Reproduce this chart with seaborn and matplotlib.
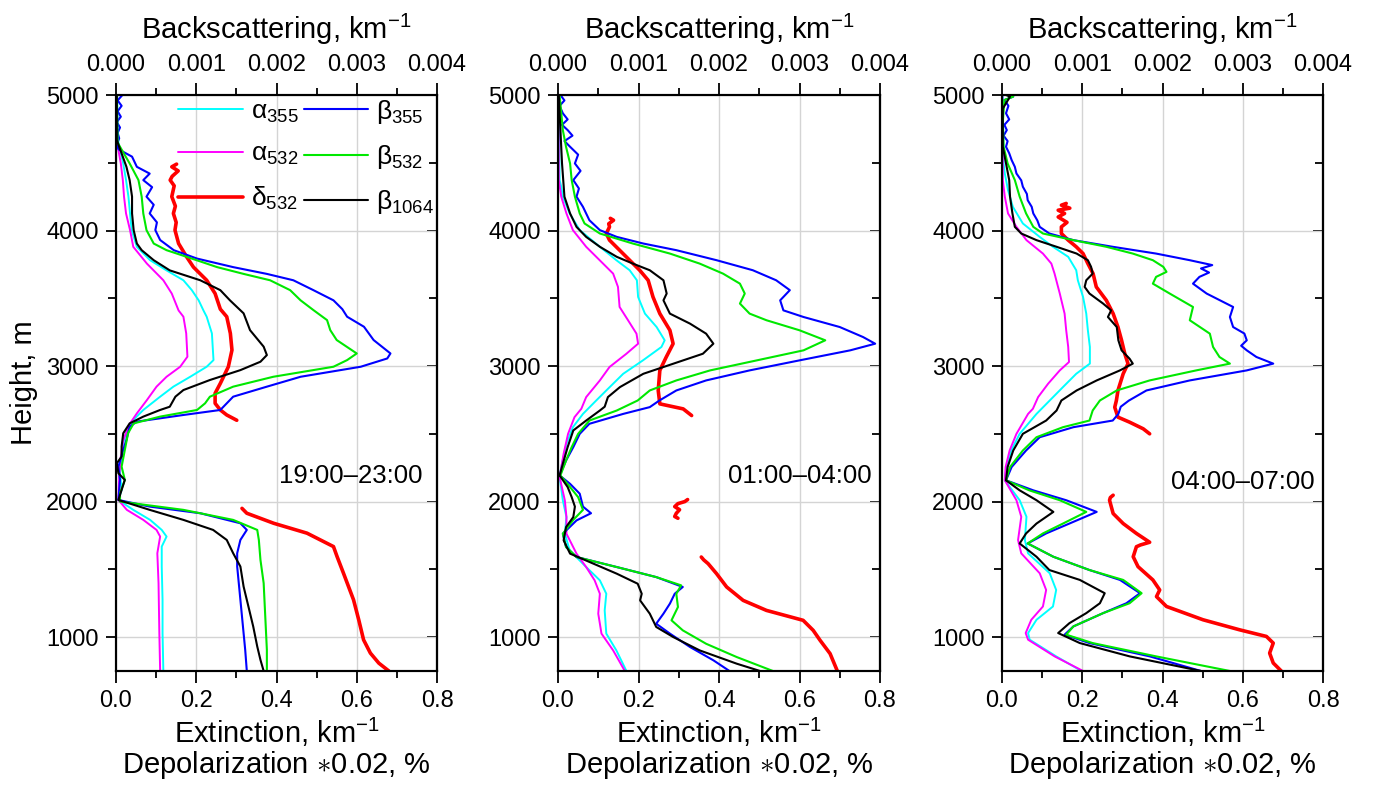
import matplotlib
matplotlib.use("Agg")
import matplotlib.pyplot as plt
import seaborn as sns
from matplotlib.ticker import MultipleLocator, FormatStrFormatter
from matplotlib.lines import Line2D

# ---------------------------------------------------------------------------
# Lidar profiles: heights (m) and values.
# alpha = extinction (km^-1), delta = depolarization*0.02 (%), beta = backscatter (km^-1)
# ---------------------------------------------------------------------------

# ---- 19:00-23:00 ----
p1_a355_h = [5000, 4800, 4650, 4594, 4495, 4372, 4250, 4126, 4003, 3880, 3781, 3706, 3633, 3560, 3485,
             3410, 3364, 3241, 3044, 2995, 2921, 2848, 2774, 2676, 2602, 2528, 2430, 2332, 2209, 2086,
             2012, 1939, 1865, 1791, 1742, 1668, 1521, 1275, 1029, 750]
p1_a355 = [0.003, 0.004, 0.006, 0.010, 0.018, 0.025, 0.031, 0.035, 0.039, 0.052, 0.085, 0.126, 0.168, 0.189, 0.206,
           0.218, 0.226, 0.239, 0.243, 0.226, 0.185, 0.143, 0.110, 0.068, 0.043, 0.027, 0.018, 0.014, 0.010, 0.014,
           0.006, 0.043, 0.085, 0.114, 0.126, 0.114, 0.114, 0.116, 0.116, 0.118]

p1_a532_h = [5000, 4650, 4594, 4495, 4372, 4250, 4126, 4003, 3880, 3756, 3633, 3535, 3410, 3364, 3241,
             3069, 2995, 2921, 2848, 2749, 2651, 2577, 2455, 2332, 2184, 2012, 1939, 1865, 1791, 1742,
             1619, 1398, 1029, 750]
p1_a532 = [0.002, 0.004, 0.006, 0.012, 0.017, 0.020, 0.025, 0.035, 0.043, 0.077, 0.118, 0.139, 0.156, 0.168, 0.175,
           0.178, 0.160, 0.126, 0.101, 0.077, 0.052, 0.035, 0.018, 0.012, 0.008, 0.006, 0.027, 0.068, 0.101, 0.110,
           0.103, 0.106, 0.108, 0.110]

p1_d532_upper_h = [4490, 4470, 4440, 4400, 4372, 4330, 4250, 4180, 4126, 4060, 4003, 3904, 3806, 3730, 3633,
                   3535, 3420, 3364, 3241, 3118, 2995, 2872, 2799, 2725, 2676, 2639, 2600]
p1_d532_upper = [0.151, 0.139, 0.155, 0.140, 0.135, 0.145, 0.139, 0.148, 0.143, 0.150, 0.147, 0.156, 0.176, 0.193, 0.226,
                 0.247, 0.260, 0.276, 0.285, 0.289, 0.280, 0.260, 0.247, 0.247, 0.260, 0.276, 0.301]
p1_d532_lower_h = [1950, 1914, 1840, 1767, 1668, 1594, 1471, 1275, 1127, 980, 882, 808, 750]
p1_d532_lower = [0.314, 0.326, 0.393, 0.476, 0.542, 0.551, 0.567, 0.592, 0.605, 0.617, 0.634, 0.655, 0.680]

p1_b355_h = [5000, 4960, 4920, 4880, 4840, 4800, 4760, 4720, 4680, 4640, 4600, 4545, 4470, 4420, 4372,
             4320, 4250, 4190, 4126, 4060, 4003, 3930, 3855, 3793, 3730, 3680, 3633, 3560, 3485, 3420,
             3364, 3290, 3192, 3093, 3056, 2995, 2921, 2848, 2774, 2725, 2676, 2639, 2590, 2553, 2455,
             2381, 2258, 2160, 2012, 1963, 1914, 1840, 1791, 1717, 1619, 1521, 1398, 1275, 1152, 1029,
             906, 750]
p1_b355 = [0.00008, 0.00002, 0.00007, 0.00002, 0.00006, 0.00001, 0.00005, 0.00002, 0.00004, 0.00001,
           0.00003, 0.0002, 0.00026, 0.00042, 0.00034, 0.00045, 0.00038, 0.00047, 0.00042, 0.00051,
           0.00049, 0.00055, 0.00072, 0.00101, 0.00146, 0.00188, 0.00221, 0.00246, 0.00271, 0.00282,
           0.00288, 0.00309, 0.00321, 0.00342, 0.00338, 0.00305, 0.0023, 0.00188, 0.00146, 0.00138,
           0.0013, 0.00084, 0.00026, 0.00017, 0.00013, 0.00009, 0.00003, 0.00005, 0.00003, 0.00042,
           0.00105, 0.00155, 0.00163, 0.00155, 0.00151, 0.00151, 0.00153, 0.00155, 0.00157, 0.00159,
           0.00161, 0.00163]

p1_b532_h = [5000, 4650, 4618, 4495, 4372, 4250, 4126, 4003, 3904, 3855, 3806, 3730, 3680, 3633, 3560,
             3485, 3413, 3339, 3265, 3192, 3093, 3044, 2995, 2921, 2848, 2774, 2725, 2676, 2627, 2577,
             2504, 2381, 2258, 2160, 2061, 2000, 1939, 1865, 1791, 1717, 1570, 1398, 1152, 906, 750]
p1_b532 = [0.00001, 0.00002, 0.00005, 0.00017, 0.00028, 0.00032, 0.00034, 0.00038, 0.00047, 0.00063,
           0.00088, 0.00126, 0.00159, 0.00192, 0.00217, 0.0023, 0.00246, 0.00263, 0.00267, 0.00275,
           0.003, 0.00288, 0.00271, 0.00196, 0.00146, 0.00117, 0.00111, 0.00101, 0.00055, 0.00022,
           0.00015, 0.00011, 0.00007, 0.00011, 0.00005, 0.00005, 0.00084, 0.00146, 0.00176, 0.00178,
           0.0018, 0.00184, 0.00186, 0.00188, 0.00188]

p1_b1064_h = [5000, 4667, 4569, 4470, 4372, 4250, 4126, 4003, 3904, 3855, 3781, 3706, 3633, 3560, 3485,
              3389, 3265, 3143, 3081, 3032, 2970, 2897, 2823, 2774, 2700, 2676, 2627, 2577, 2504, 2406,
              2332, 2283, 2209, 2160, 2086, 2012, 1939, 1865, 1791, 1717, 1619, 1521, 1373, 1226, 1078,
              931, 832, 750]
p1_b1064 = [0.00001, 0.00001, 0.00007, 0.00013, 0.00017, 0.0002, 0.0002, 0.00022, 0.00026, 0.00032,
            0.00047, 0.00067, 0.00105, 0.0013, 0.00142, 0.00159, 0.00167, 0.00184, 0.00188, 0.0018,
            0.00155, 0.00117, 0.00084, 0.00074, 0.00067, 0.00055, 0.00034, 0.00017, 0.00009, 0.00007,
            0.00007, 0.00001, 0.00003, 0.00011, 0.00007, 0.00003, 0.00042, 0.00084, 0.00121, 0.00138,
            0.00146, 0.00155, 0.00159, 0.00165, 0.00171, 0.00176, 0.0018, 0.00184]

# ---- 01:00-04:00 ----
p2_a355_h = [5000, 4372, 4323, 4250, 4126, 4003, 3880, 3781, 3707, 3633, 3510, 3387, 3288, 3190, 3141,
             3042, 2943, 2820, 2746, 2647, 2549, 2426, 2254, 2181, 2009, 1886, 1763, 1640, 1517, 1419,
             1320, 1197, 1026, 902, 750]
p2_a355 = [0.002, 0.004, 0.008, 0.012, 0.029, 0.054, 0.104, 0.145, 0.178, 0.196, 0.199, 0.216, 0.245, 0.265, 0.257,
           0.211, 0.162, 0.120, 0.095, 0.062, 0.037, 0.021, 0.008, 0.004, 0.012, 0.021, 0.017, 0.029, 0.070, 0.104,
           0.120, 0.116, 0.120, 0.145, 0.170]

p2_a532_h = [5000, 4372, 4250, 4126, 4003, 3880, 3756, 3682, 3584, 3436, 3338, 3239, 3165, 3091, 2993,
             2894, 2771, 2685, 2623, 2500, 2353, 2181, 2009, 1886, 1763, 1616, 1517, 1419, 1320, 1173,
             1026, 902, 750]
p2_a532 = [0.001, 0.002, 0.008, 0.021, 0.037, 0.070, 0.112, 0.137, 0.149, 0.153, 0.174, 0.195, 0.199, 0.170, 0.128,
           0.104, 0.070, 0.058, 0.041, 0.025, 0.014, 0.004, 0.017, 0.021, 0.021, 0.046, 0.070, 0.091, 0.104, 0.100,
           0.108, 0.137, 0.166]

p2_d532_upper_h = [4090, 4076, 4050, 4027, 3978, 3929, 3855, 3781, 3707, 3633, 3510, 3387, 3264, 3165, 3067,
                   2968, 2820, 2721, 2700, 2684, 2635]
p2_d532_upper = [0.130, 0.138, 0.126, 0.128, 0.120, 0.128, 0.153, 0.178, 0.203, 0.224, 0.236, 0.253, 0.278, 0.286, 0.269,
                 0.253, 0.249, 0.253, 0.286, 0.311, 0.332]
p2_d532_middle_h = [2015, 2000, 1985, 1963, 1940, 1914, 1890, 1877]
p2_d532_middle = [0.322, 0.315, 0.298, 0.290, 0.302, 0.294, 0.290, 0.298]
p2_d532_lower_h = [1591, 1570, 1542, 1468, 1370, 1271, 1197, 1124, 1050, 977, 878, 750]
p2_d532_lower = [0.356, 0.362, 0.373, 0.394, 0.419, 0.460, 0.518, 0.609, 0.634, 0.651, 0.676, 0.694]

p2_b355_h = [5000, 4960, 4920, 4865, 4820, 4780, 4741, 4700, 4660, 4618, 4560, 4495, 4440, 4372, 4310,
             4250, 4175, 4076, 4003, 3953, 3904, 3855, 3781, 3707, 3633, 3560, 3485, 3411, 3362, 3288,
             3214, 3165, 3116, 3042, 2968, 2894, 2820, 2746, 2697, 2647, 2574, 2500, 2402, 2303, 2193,
             2131, 2058, 1963, 1914, 1861, 1763, 1665, 1591, 1517, 1443, 1370, 1320, 1247, 1173, 1099,
             1026, 927, 829, 750]
p2_b355 = [0.00003, 0.00008, 0.00002, 0.00006, 0.00012, 0.00005, 0.00012, 0.00018, 0.00008, 0.00015,
           0.00025, 0.00021, 0.00028, 0.00019, 0.00026, 0.00023, 0.00031, 0.00039, 0.00052, 0.00073,
           0.00106, 0.00147, 0.00197, 0.00242, 0.00271, 0.00288, 0.00276, 0.0028, 0.00305, 0.0035,
           0.00379, 0.00394, 0.00363, 0.003, 0.00238, 0.00184, 0.00147, 0.00126, 0.00114, 0.00081,
           0.00039, 0.00027, 0.00019, 0.0001, 0.00002, 0.00015, 0.00027, 0.00031, 0.00041, 0.00023,
           0.00006, 0.0001, 0.00023, 0.00073, 0.00122, 0.00155, 0.00145, 0.00139, 0.00131, 0.00122,
           0.00139, 0.00164, 0.00193, 0.00213]

p2_b532_h = [5000, 4741, 4618, 4495, 4372, 4250, 4126, 4052, 3978, 3904, 3830, 3756, 3682, 3608, 3535,
             3461, 3387, 3338, 3264, 3190, 3116, 3042, 2968, 2894, 2820, 2746, 2672, 2598, 2500, 2402,
             2303, 2193, 2107, 2033, 1939, 1865, 1763, 1665, 1591, 1517, 1443, 1382, 1320, 1222, 1124,
             1050, 951, 853, 750]
p2_b532 = [0.00002, 0.00006, 0.0001, 0.00015, 0.00017, 0.00021, 0.00027, 0.00033, 0.00052, 0.00093,
           0.00139, 0.00176, 0.00205, 0.00226, 0.00232, 0.00226, 0.00238, 0.00259, 0.003, 0.00332,
           0.00305, 0.00247, 0.00189, 0.00147, 0.00114, 0.00099, 0.00073, 0.00039, 0.00025, 0.00017,
           0.0001, 0.00003, 0.00015, 0.00025, 0.00031, 0.00019, 0.00006, 0.0001, 0.00023, 0.00073,
           0.00122, 0.00153, 0.00147, 0.00149, 0.00141, 0.00155, 0.00184, 0.00222, 0.00267]

p2_b1064_h = [5000, 4741, 4495, 4250, 4126, 4027, 3953, 3880, 3806, 3756, 3707, 3633, 3535, 3485, 3387,
              3313, 3239, 3165, 3091, 3017, 2943, 2845, 2771, 2700, 2672, 2598, 2525, 2402, 2279, 2193,
              2107, 2033, 1963, 1886, 1812, 1714, 1616, 1542, 1468, 1394, 1320, 1271, 1173, 1075, 1001,
              902, 804, 750]
p2_b1064 = [0.00001, 0.00003, 0.00005, 0.00008, 0.00015, 0.00023, 0.00035, 0.00052, 0.00073, 0.00093,
            0.00114, 0.00131, 0.00135, 0.00131, 0.00139, 0.00164, 0.00184, 0.00193, 0.0018, 0.00143,
            0.00106, 0.00077, 0.00062, 0.00058, 0.00052, 0.00035, 0.00019, 0.00012, 0.00006, 0.00002,
            0.00012, 0.00017, 0.00021, 0.00019, 0.0001, 0.00007, 0.00015, 0.00044, 0.00073, 0.00099,
            0.00104, 0.00102, 0.00114, 0.00122, 0.00143, 0.00176, 0.00222, 0.00251]

# ---- 04:00-07:00 ----
p3_a355_h = [5000, 4495, 4421, 4298, 4175, 4052, 3953, 3880, 3806, 3707, 3633, 3510, 3387, 3264, 3141,
             3018, 2943, 2845, 2746, 2647, 2500, 2377, 2255, 2157, 2010, 1888, 1716, 1618, 1471, 1348,
             1226, 1128, 1030, 981, 858, 750]
p3_a355 = [0.002, 0.004, 0.007, 0.015, 0.027, 0.052, 0.094, 0.127, 0.165, 0.185, 0.189, 0.202, 0.210, 0.214, 0.219,
           0.219, 0.185, 0.152, 0.119, 0.086, 0.044, 0.023, 0.011, 0.007, 0.044, 0.061, 0.057, 0.065, 0.119, 0.135,
           0.127, 0.086, 0.065, 0.069, 0.135, 0.198]

p3_a532_h = [5000, 4372, 4250, 4126, 4027, 3929, 3830, 3756, 3682, 3535, 3387, 3264, 3141, 3030, 2968,
             2870, 2771, 2685, 2647, 2500, 2377, 2255, 2157, 2010, 1888, 1716, 1618, 1471, 1348, 1226,
             1128, 1030, 981, 858, 750]
p3_a532 = [0.001, 0.002, 0.007, 0.015, 0.036, 0.061, 0.102, 0.123, 0.131, 0.144, 0.156, 0.160, 0.165, 0.167, 0.144,
           0.115, 0.090, 0.077, 0.065, 0.036, 0.019, 0.009, 0.007, 0.036, 0.048, 0.040, 0.048, 0.094, 0.110, 0.102,
           0.073, 0.059, 0.065, 0.131, 0.202]

p3_d532_upper_h = [4200, 4187, 4165, 4150, 4126, 4100, 4060, 4027, 3978, 3929, 3880, 3830, 3756, 3682, 3584,
                   3485, 3387, 3288, 3190, 3091, 3018, 2943, 2820, 2745, 2696, 2623, 2586, 2537, 2500]
p3_d532_upper = [0.160, 0.148, 0.169, 0.140, 0.156, 0.140, 0.162, 0.148, 0.148, 0.165, 0.185, 0.202, 0.214, 0.227, 0.235,
                 0.260, 0.277, 0.289, 0.298, 0.306, 0.314, 0.302, 0.289, 0.285, 0.281, 0.289, 0.318, 0.352, 0.368]
p3_d532_lower_h = [2047, 2030, 2010, 1912, 1838, 1765, 1700, 1680, 1667, 1593, 1520, 1422, 1348, 1299, 1226,
                   1128, 1054, 1005, 956, 882, 809, 750]
p3_d532_lower = [0.277, 0.270, 0.268, 0.277, 0.302, 0.335, 0.368, 0.345, 0.335, 0.327, 0.339, 0.376, 0.393, 0.385, 0.410,
                 0.501, 0.592, 0.659, 0.676, 0.667, 0.676, 0.696]

p3_b355_h = [5000, 4988, 4963, 4920, 4865, 4820, 4780, 4741, 4700, 4660, 4618, 4570, 4520, 4470, 4421,
             4370, 4323, 4270, 4224, 4175, 4126, 4075, 4027, 3978, 3929, 3880, 3830, 3781, 3745, 3720,
             3690, 3658, 3608, 3535, 3436, 3362, 3288, 3240, 3190, 3150, 3116, 3067, 3018, 2968, 2894,
             2820, 2745, 2700, 2647, 2598, 2549, 2475, 2377, 2255, 2157, 2083, 2010, 1924, 1838, 1765,
             1691, 1593, 1495, 1422, 1324, 1250, 1177, 1079, 1018, 956, 858, 750]
p3_b355 = [0.0001, 0.00014, 0.00003, 0.00008, 0.00005, 0.00009, 0.00003, 0.00006, 0.00002, 0.00007,
           0.00005, 0.00009, 0.00012, 0.00016, 0.00018, 0.00024, 0.00026, 0.00031, 0.00032, 0.00037,
           0.00039, 0.00044, 0.00047, 0.00059, 0.00089, 0.00138, 0.00192, 0.00234, 0.00262, 0.00248,
           0.00258, 0.00246, 0.00238, 0.00255, 0.00288, 0.00284, 0.00288, 0.00302, 0.00305, 0.00298,
           0.00305, 0.00317, 0.00338, 0.00305, 0.00234, 0.0018, 0.00158, 0.00148, 0.00145, 0.00138,
           0.00089, 0.00047, 0.0003, 0.00012, 0.00005, 0.00039, 0.0008, 0.00118, 0.00084, 0.00055,
           0.00032, 0.00064, 0.00109, 0.00147, 0.00172, 0.00155, 0.00126, 0.00089, 0.00078, 0.00109,
           0.00184, 0.00248]

p3_b532_h = [5000, 4988, 4963, 4800, 4618, 4495, 4372, 4250, 4126, 4027, 3978, 3929, 3880, 3830, 3781,
             3732, 3695, 3658, 3608, 3535, 3436, 3338, 3239, 3141, 3067, 3018, 2968, 2894, 2820, 2746,
             2672, 2598, 2549, 2475, 2377, 2255, 2157, 2083, 2010, 1924, 1838, 1765, 1691, 1593, 1495,
             1422, 1324, 1250, 1177, 1079, 1018, 956, 858, 750]
p3_b532 = [0.00008, 0.00014, 0.00003, 0.00001, 0.00002, 0.00007, 0.00016, 0.00022, 0.0003, 0.00039,
           0.00051, 0.00089, 0.0013, 0.00163, 0.00188, 0.00201, 0.00205, 0.00192, 0.00188, 0.00209,
           0.00238, 0.00234, 0.00259, 0.00263, 0.00271, 0.00284, 0.00242, 0.00184, 0.00143, 0.00122,
           0.00113, 0.00109, 0.00076, 0.00043, 0.00026, 0.0001, 0.00005, 0.00034, 0.00072, 0.00105,
           0.00076, 0.00051, 0.00032, 0.00064, 0.00109, 0.00151, 0.00174, 0.00159, 0.00126, 0.00089,
           0.0008, 0.00113, 0.00192, 0.00284]

p3_b1064_h = [5000, 4988, 4900, 4618, 4495, 4372, 4250, 4126, 4027, 3978, 3929, 3880, 3830, 3781, 3732,
              3682, 3633, 3584, 3535, 3461, 3411, 3362, 3288, 3190, 3116, 3054, 3018, 2968, 2894, 2820,
              2746, 2672, 2598, 2500, 2377, 2255, 2157, 2083, 2010, 1924, 1838, 1765, 1691, 1593, 1495,
              1422, 1324, 1250, 1177, 1103, 1030, 956, 858, 750]
p3_b1064 = [0.00005, 0.0001, 0.00001, 0.00001, 0.00005, 0.00009, 0.0001, 0.00013, 0.00016, 0.00024,
            0.00043, 0.00068, 0.00093, 0.00107, 0.00111, 0.00113, 0.00105, 0.00103, 0.00109, 0.00126,
            0.00136, 0.00132, 0.00143, 0.00145, 0.00149, 0.00159, 0.00163, 0.00147, 0.00118, 0.00093,
            0.00074, 0.00068, 0.00055, 0.00026, 0.00014, 0.00007, 0.00005, 0.00022, 0.00043, 0.00064,
            0.00043, 0.0003, 0.00022, 0.00043, 0.00059, 0.00097, 0.00128, 0.00122, 0.00105, 0.00084,
            0.0007, 0.00097, 0.00159, 0.00248]

periods = ["19:00\u201323:00", "01:00\u201304:00", "04:00\u201307:00"]
legend_labels = [r"$\mathregular{\alpha_{355}}$", r"$\mathregular{\alpha_{532}}$", r"$\mathregular{\delta_{532}}$",
                 r"$\mathregular{\beta_{355}}$", r"$\mathregular{\beta_{532}}$", r"$\mathregular{\beta_{1064}}$"]

# ---------------------------------------------------------------------------
# Styling
# ---------------------------------------------------------------------------
sns.set_style("white")
plt.rcParams["font.family"] = ["Liberation Sans", "DejaVu Sans"]
plt.rcParams["mathtext.fontset"] = "custom"
plt.rcParams["mathtext.rm"] = "Liberation Sans"
plt.rcParams["mathtext.it"] = "Liberation Sans:italic"
plt.rcParams["mathtext.bf"] = "Liberation Sans:bold"
plt.rcParams["axes.linewidth"] = 1.5
plt.rcParams["axes.edgecolor"] = "black"
for key in ("text.color", "axes.labelcolor", "xtick.color", "ytick.color"):
    plt.rcParams[key] = "black"

C_A355, C_A532, C_D532 = "#00FFFF", "#FF00FF", "#FF0000"
C_B355, C_B532, C_B1064 = "#0000FF", "#00E800", "#000000"
LW_A, LW_B, LW_D = 1.4, 1.5, 2.6

panels = [
    dict(a355=(p1_a355_h, p1_a355), a532=(p1_a532_h, p1_a532),
         d532=[(p1_d532_upper_h, p1_d532_upper), (p1_d532_lower_h, p1_d532_lower)],
         b355=(p1_b355_h, p1_b355), b532=(p1_b532_h, p1_b532), b1064=(p1_b1064_h, p1_b1064)),
    dict(a355=(p2_a355_h, p2_a355), a532=(p2_a532_h, p2_a532),
         d532=[(p2_d532_upper_h, p2_d532_upper), (p2_d532_middle_h, p2_d532_middle),
               (p2_d532_lower_h, p2_d532_lower)],
         b355=(p2_b355_h, p2_b355), b532=(p2_b532_h, p2_b532), b1064=(p2_b1064_h, p2_b1064)),
    dict(a355=(p3_a355_h, p3_a355), a532=(p3_a532_h, p3_a532),
         d532=[(p3_d532_upper_h, p3_d532_upper), (p3_d532_lower_h, p3_d532_lower)],
         b355=(p3_b355_h, p3_b355), b532=(p3_b532_h, p3_b532), b1064=(p3_b1064_h, p3_b1064)),
]

W, H = 1373, 794
fig = plt.figure(figsize=(W / 100, H / 100), dpi=100)
lefts = [116, 558, 1002]
widths = [321, 322, 321]
top_px, bottom_px = 95, 671
label_pos = [(0.765, 2190), (0.780, 2190), (0.779, 2145)]


def profile(ax, hv, color, lw):
    h, v = hv
    sns.lineplot(x=v, y=h, orient="y", sort=False, estimator=None, color=color,
                 linewidth=lw, ax=ax, legend=False)


for i, pdata in enumerate(panels):
    ax = fig.add_axes([lefts[i] / W, (H - bottom_px) / H, widths[i] / W, (bottom_px - top_px) / H])
    ax.set_xlim(0, 0.8)
    ax.set_ylim(750, 5000)
    ax.set_axisbelow(True)
    ax.grid(True, which="major", color="#d4d4d4", linewidth=1.0)

    profile(ax, pdata["a355"], C_A355, LW_A)
    profile(ax, pdata["a532"], C_A532, LW_A)
    for seg in pdata["d532"]:
        profile(ax, seg, C_D532, LW_D)

    ax_top = ax.twiny()
    ax_top.set_xlim(0, 0.004)
    profile(ax_top, pdata["b355"], C_B355, LW_B)
    profile(ax_top, pdata["b532"], C_B532, LW_B)
    profile(ax_top, pdata["b1064"], C_B1064, LW_B)
    ax_top.set_xlim(0, 0.004)
    ax.set_xlim(0, 0.8)
    ax.set_ylim(750, 5000)

    # bottom axis
    ax.xaxis.set_major_locator(MultipleLocator(0.2))
    ax.xaxis.set_minor_locator(MultipleLocator(0.1))
    ax.xaxis.set_major_formatter(FormatStrFormatter("%.1f"))
    ax.tick_params(axis="x", which="major", direction="out", length=8.5, width=1.3,
                   labelsize=17, pad=5, top=False, bottom=True)
    ax.tick_params(axis="x", which="minor", direction="out", length=5, width=1.3, top=False)
    # left axis
    ax.yaxis.set_major_locator(MultipleLocator(1000))
    ax.yaxis.set_minor_locator(MultipleLocator(500))
    ax.tick_params(axis="y", which="major", direction="out", length=7.5, width=1.3,
                   labelsize=17, pad=5, left=True, right=False)
    ax.tick_params(axis="y", which="minor", direction="out", length=6, width=1.3, left=True, right=False)
    # right axis: inward ticks, no labels
    sec = ax.secondary_yaxis("right")
    sec.yaxis.set_major_locator(MultipleLocator(1000))
    sec.yaxis.set_minor_locator(MultipleLocator(500))
    sec.tick_params(which="major", direction="in", length=7.5, width=1.3, labelright=False)
    sec.tick_params(which="minor", direction="in", length=6, width=1.3)
    sec.spines["right"].set_linewidth(1.5)
    # top axis
    ax_top.xaxis.set_major_locator(MultipleLocator(0.001))
    ax_top.xaxis.set_minor_locator(MultipleLocator(0.0005))
    ax_top.xaxis.set_major_formatter(FormatStrFormatter("%.3f"))
    ax_top.tick_params(axis="x", which="major", direction="out", length=8.5, width=1.3,
                       labelsize=17, pad=5)
    ax_top.tick_params(axis="x", which="minor", direction="out", length=5, width=1.3)
    for sp in list(ax.spines.values()) + list(ax_top.spines.values()):
        sp.set_linewidth(1.5)
        sp.set_color("black")

    ax_top.set_xlabel("Backscattering, km$^{-1}$", fontsize=21, labelpad=11)
    ax.set_xlabel("Extinction, km$^{-1}$\nDepolarization $\\ast$0.02, %", fontsize=21,
                  labelpad=3, linespacing=1.0)
    if i == 0:
        ax.set_ylabel("Height, m", fontsize=21, labelpad=6)
    else:
        ax.set_ylabel("")
    ax_top.set_ylabel("")

    tx, ty = label_pos[i]
    ax.text(tx, ty, periods[i], ha="right", va="center", fontsize=18.5)

    if i == 0:
        colors = [C_A355, C_A532, C_D532, C_B355, C_B532, C_B1064]
        widths_l = [LW_A, LW_A, LW_D, LW_B, LW_B, LW_B]
        handles = [Line2D([], [], color=c, lw=w) for c, w in zip(colors, widths_l)]
        ax_top.legend(handles, legend_labels, ncol=2, loc="upper right",
                      bbox_to_anchor=(1.0, 1.0), frameon=False, fontsize=19,
                      handlelength=2.45, handletextpad=0.3, columnspacing=0.2,
                      labelspacing=0.66, borderaxespad=0.0, borderpad=0.1)

fig.savefig("out.png", dpi=100)
